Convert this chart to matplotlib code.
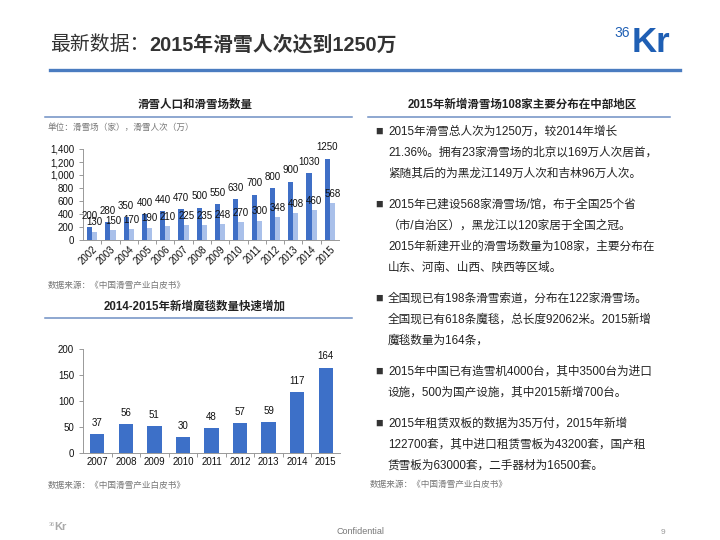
import matplotlib
matplotlib.use('Agg')
import matplotlib.pyplot as plt
from matplotlib.lines import Line2D
from matplotlib.ticker import FuncFormatter

plt.rcParams['font.family'] = ['Liberation Sans', 'Noto Sans CJK SC', 'DejaVu Sans']

# data
years_top = ['2002', '2003', '2004', '2005', '2006', '2007', '2008',
             '2009', '2010', '2011', '2012', '2013', '2014', '2015']
visits = [200, 280, 350, 400, 440, 470, 500, 550, 630, 700, 800, 900, 1030, 1250]
resorts = [130, 150, 170, 190, 210, 225, 235, 248, 270, 300, 348, 408, 460, 568]

years_bottom = ['2007', '2008', '2009', '2010', '2011', '2012', '2013', '2014', '2015']
carpets = [37, 56, 51, 30, 48, 57, 59, 117, 164]

bullets = [
    ['2015年滑雪总人次为1250万，较2014年增长',
     '21.36%。拥有23家滑雪场的北京以169万人次居首，',
     '紧随其后的为黑龙江149万人次和吉林96万人次。'],
    ['2015年已建设568家滑雪场/馆，布于全国25个省',
     '（市/自治区），黑龙江以120家居于全国之冠。',
     '2015年新建开业的滑雪场数量为108家，主要分布在',
     '山东、河南、山西、陕西等区域。'],
    ['全国现已有198条滑雪索道，分布在122家滑雪场。',
     '全国现已有618条魔毯，总长度92062米。2015新增',
     '魔毯数量为164条，'],
    ['2015年中国已有造雪机4000台，其中3500台为进口',
     '设施，500为国产设施，其中2015新增700台。'],
    ['2015年租赁双板的数据为35万付，2015年新增',
     '122700套，其中进口租赁雪板为43200套，国产租',
     '赁雪板为63000套，二手器材为16500套。'],
]

W, H = 720, 540
def fx(x):
    return x / W
def fy(y):
    return 1 - y / H

fig = plt.figure(figsize=(7.2, 5.4), dpi=100)

# header
t1 = fig.text(fx(50), fy(45), '最新数据：', fontsize=14.3, color='#333333', va='center')
fig.canvas.draw()
bb = t1.get_window_extent()
fig.text(bb.x1 / W, fy(45), '2015年滑雪人次达到1250万', fontsize=14.3,
         fontweight='bold', color='#333333', va='center')
fig.add_artist(Line2D([fx(50), fx(680)], [fy(70), fy(70)], color='#4a7cc0', lw=2.4))
fig.text(fx(614), fy(33), '36', fontsize=10, color='#1f5fb4', va='center')
fig.text(fx(632), fy(43), 'Kr', fontsize=25, color='#1f5fb4', va='center',
         fontweight='bold')

# section titles
sec_color = '#6f8fc4'
fig.text(fx(195), fy(105), '滑雪人口和滑雪场数量', fontsize=8.3, fontweight='bold',
         color='#222222', ha='center', va='center')
fig.add_artist(Line2D([fx(45), fx(352)], [fy(117), fy(117)], color=sec_color, lw=1.1))
fig.text(fx(522), fy(105), '2015年新增滑雪场108家主要分布在中部地区', fontsize=8.3,
         fontweight='bold', color='#222222', ha='center', va='center')
fig.add_artist(Line2D([fx(368), fx(670)], [fy(117), fy(117)], color=sec_color, lw=1.1))
fig.text(fx(195), fy(307), '2014-2015年新增魔毯数量快速增加', fontsize=8.3,
         fontweight='bold', color='#222222', ha='center', va='center')
fig.add_artist(Line2D([fx(45), fx(352)], [fy(318), fy(318)], color=sec_color, lw=1.1))

fig.text(fx(48), fy(127), '单位：滑雪场（家），滑雪人次（万）', fontsize=6.2,
         color='#777777', va='center')
for y in (285, 485):
    fig.text(fx(48), fy(y), '数据来源：《中国滑雪产业白皮书》', fontsize=6.2,
             color='#777777', va='center', style='italic')
fig.text(fx(370), fy(484), '数据来源：《中国滑雪产业白皮书》', fontsize=6.2,
         color='#777777', va='center', style='italic')

# top chart
ax1 = fig.add_axes([fx(83), fy(240), (339 - 83) / W, (240 - 149) / H])
xs = range(len(years_top))
bw = 0.28
ax1.bar([x - bw / 2 for x in xs], visits, width=bw, color='#3f6fc6')
ax1.bar([x + bw / 2 for x in xs], resorts, width=bw, color='#a9c0ea')
for x, v in zip(xs, visits):
    ax1.annotate(str(v), (x - bw / 2, v), xytext=(0, 4.5), textcoords='offset points',
                 ha='center', va='bottom', fontsize=7, color='#111111')
for x, v in zip(xs, resorts):
    ax1.annotate(str(v), (x + bw / 2, v), xytext=(0, 3), textcoords='offset points',
                 ha='center', va='bottom', fontsize=7, color='#111111')
ax1.set_xlim(-0.5, len(years_top) - 0.5)
ax1.set_ylim(0, 1400)
ax1.set_yticks(range(0, 1401, 200))
ax1.yaxis.set_major_formatter(FuncFormatter(lambda v, p: f'{int(v):,}'))
ax1.set_xticks(list(xs))
ax1.set_xticklabels(years_top, rotation=45, ha='right', rotation_mode='anchor')
ax1.set_xticks([x + 0.5 for x in xs][:-1], minor=True)

# bottom chart
ax2 = fig.add_axes([fx(83), fy(453), (340 - 83) / W, (453 - 349) / H])
xs2 = range(len(years_bottom))
ax2.bar(list(xs2), carpets, width=0.5, color='#3d70c8')
for x, v in zip(xs2, carpets):
    ax2.annotate(str(v), (x, v), xytext=(0, 4.5), textcoords='offset points',
                 ha='center', va='bottom', fontsize=7, color='#111111')
ax2.set_xlim(-0.5, len(years_bottom) - 0.5)
ax2.set_ylim(0, 200)
ax2.set_yticks(range(0, 201, 50))
ax2.set_xticks(list(xs2))
ax2.set_xticklabels(years_bottom)
ax2.set_xticks([x + 0.5 for x in xs2][:-1], minor=True)

for ax in (ax1, ax2):
    for s in ('top', 'right'):
        ax.spines[s].set_visible(False)
    for s in ('left', 'bottom'):
        ax.spines[s].set_color('#999999')
        ax.spines[s].set_linewidth(0.7)
    ax.tick_params(axis='both', labelsize=7, colors='#999999', labelcolor='#111111',
                   width=0.7, length=3)
    ax.tick_params(axis='x', which='major', length=0, pad=3)
    ax.tick_params(axis='x', which='minor', length=3, color='#999999', width=0.7)

# bullet text
y = 132
for block in bullets:
    fig.text(fx(379), fy(y), '■', fontsize=9, color='#333333', va='center', ha='center')
    for line in block:
        fig.text(fx(388), fy(y), line, fontsize=8.4, color='#222222', va='center')
        y += 21
    y += 10

# footer
fig.text(fx(49), fy(525), '36', fontsize=4, color='#aaaaaa', va='center')
fig.text(fx(54), fy(527), 'Kr', fontsize=8, color='#aaaaaa', va='center', fontweight='bold')
fig.text(fx(360), fy(532), 'Confidential', fontsize=6.5, color='#777777',
         ha='center', va='center')
fig.text(fx(663), fy(532), '9', fontsize=6, color='#999999', ha='center', va='center')

fig.savefig('out.png', dpi=100)
